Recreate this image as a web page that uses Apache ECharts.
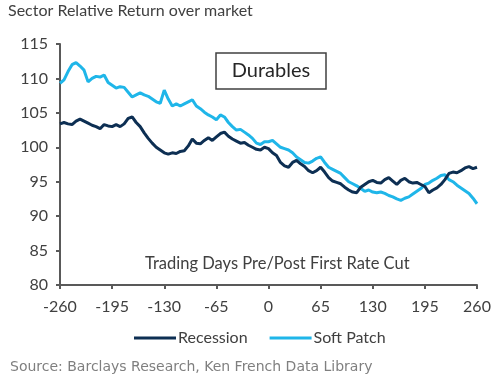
<!DOCTYPE html>
<html>
<head>
<meta charset="utf-8">
<script src="https://cdn.jsdelivr.net/npm/echarts@6/dist/echarts.min.js"></script>
<style>html,body{margin:0;padding:0;background:#fff;}#c{width:500px;height:381px;}</style>
</head>
<body>
<div id="c"></div>
<script>
const days = [];
for (let d = -260; d <= 260; d += 5) days.push(d);

const recession = [
103.4,103.6,103.4,103.3,103.8,104.1,103.8,103.5,103.2,103.0,
102.7,103.3,103.1,103.0,103.3,103.0,103.4,104.2,104.4,103.6,
103.0,102.1,101.3,100.6,100.0,99.6,99.2,99.0,99.2,99.1,
99.4,99.5,100.2,101.2,100.6,100.5,101.0,101.4,101.0,101.5,
102.0,102.2,101.6,101.2,100.9,100.6,100.7,100.3,100.0,99.7,
99.6,100.0,99.8,99.2,98.8,97.8,97.3,97.1,97.8,98.1,
97.6,97.2,96.6,96.3,96.6,97.1,96.4,95.6,95.1,94.9,
94.7,94.2,93.8,93.5,93.4,94.2,94.6,95.0,95.2,94.9,
94.8,95.3,95.6,95.1,94.6,95.2,95.5,95.0,94.8,94.9,
94.6,94.3,93.4,93.8,94.1,94.6,95.3,96.2,96.4,96.3,
96.6,97.0,97.2,96.9,97.1
];

const softPatch = [
109.3,109.8,111.0,112.0,112.3,111.8,111.2,109.5,110.0,110.3,
110.2,110.5,109.4,109.0,108.6,108.8,108.7,108.0,107.3,107.6,
107.9,107.6,107.4,107.0,106.6,106.4,108.3,107.0,106.0,106.3,
106.0,106.3,106.6,106.9,106.0,105.6,105.1,104.7,104.4,104.0,
104.7,104.4,103.6,103.0,102.5,102.6,102.2,101.8,101.3,100.6,
100.4,100.8,100.8,101.0,100.5,100.0,99.8,99.6,99.2,98.6,
98.2,97.8,97.7,98.0,98.4,98.6,97.8,97.1,96.8,96.5,
96.2,95.6,95.0,94.7,94.4,94.0,93.6,93.8,93.5,93.4,
93.5,93.3,93.0,92.8,92.5,92.3,92.6,92.8,93.2,93.6,
94.0,94.6,94.8,95.2,95.5,95.9,96.0,95.3,95.0,94.5,
94.1,93.7,93.3,92.6,91.8
];

const seriesNames = ['Recession', 'Soft Patch'];
const xTicks = [-260, -195, -130, -65, 0, 65, 130, 195, 260];
const yTicks = [80, 85, 90, 95, 100, 105, 110, 115];

const FONT = 'Lato';
const chart = echarts.init(document.getElementById('c'));
chart.setOption({
  animation: false,
  backgroundColor: '#fff',
  grid: {left: 60, right: 23, top: 44, bottom: 96},
  legend: {
    left: 129, top: 325,
    itemWidth: 42, itemHeight: 3, itemGap: 22,
    icon: 'rect',
    textStyle: {fontFamily: FONT, fontSize: 16, color: '#404040', padding: [0,0,0,-3]},
    data: seriesNames
  },
  xAxis: {
    type: 'value', min: -260, max: 260, interval: 65,
    axisLine: {show: true, onZero: false, lineStyle: {color: '#595959', width: 2}},
    axisTick: {show: true, length: 4, lineStyle: {color: '#595959', width: 2}},
    splitLine: {show: false},
    axisLabel: {fontFamily: FONT, fontSize: 16, color: '#404040', margin: 14,
      formatter: v => xTicks.includes(v) ? String(v) : ''}
  },
  yAxis: {
    type: 'value', min: 80, max: 115, interval: 5,
    axisLine: {show: true, onZero: false, lineStyle: {color: '#595959', width: 2}},
    axisTick: {show: true, length: 4, lineStyle: {color: '#595959', width: 2}},
    splitLine: {show: false},
    axisLabel: {fontFamily: FONT, fontSize: 16, color: '#404040', margin: 12,
      formatter: v => yTicks.includes(v) ? String(v) : ''}
  },
  graphic: [
    {type: 'text', left: 8, top: 3, style: {text: 'Sector Relative Return over market', font: '16px Lato', fill: '#404040'}},
    {type: 'rect', shape: {x: 216, y: 53, width: 110, height: 36}, style: {fill: '#fff', stroke: '#404040', lineWidth: 1.5}},
    {type: 'text', x: 271, y: 71, style: {text: 'Durables', font: '20px Lato', fill: '#262626', align: 'center', verticalAlign: 'middle'}},
    {type: 'text', x: 145, y: 264, style: {text: 'Trading Days Pre/Post First Rate Cut', font: '16.5px Lato', fill: '#404040', verticalAlign: 'middle'}},
    {type: 'text', x: 10, y: 367, style: {text: 'Source: Barclays Research, Ken French Data Library', font: '14px "DejaVu Sans"', fill: '#7f7f7f', verticalAlign: 'middle'}}
  ],
  series: [
    {name: seriesNames[0], type: 'line', data: days.map((d, i) => [d, recession[i]]),
     showSymbol: false, lineStyle: {color: '#0d2f53', width: 3}, itemStyle: {color: '#0d2f53'}, z: 3},
    {name: seriesNames[1], type: 'line', data: days.map((d, i) => [d, softPatch[i]]),
     showSymbol: false, lineStyle: {color: '#1fb6e9', width: 3}, itemStyle: {color: '#1fb6e9'}, z: 2}
  ]
});
</script>
</body>
</html>
